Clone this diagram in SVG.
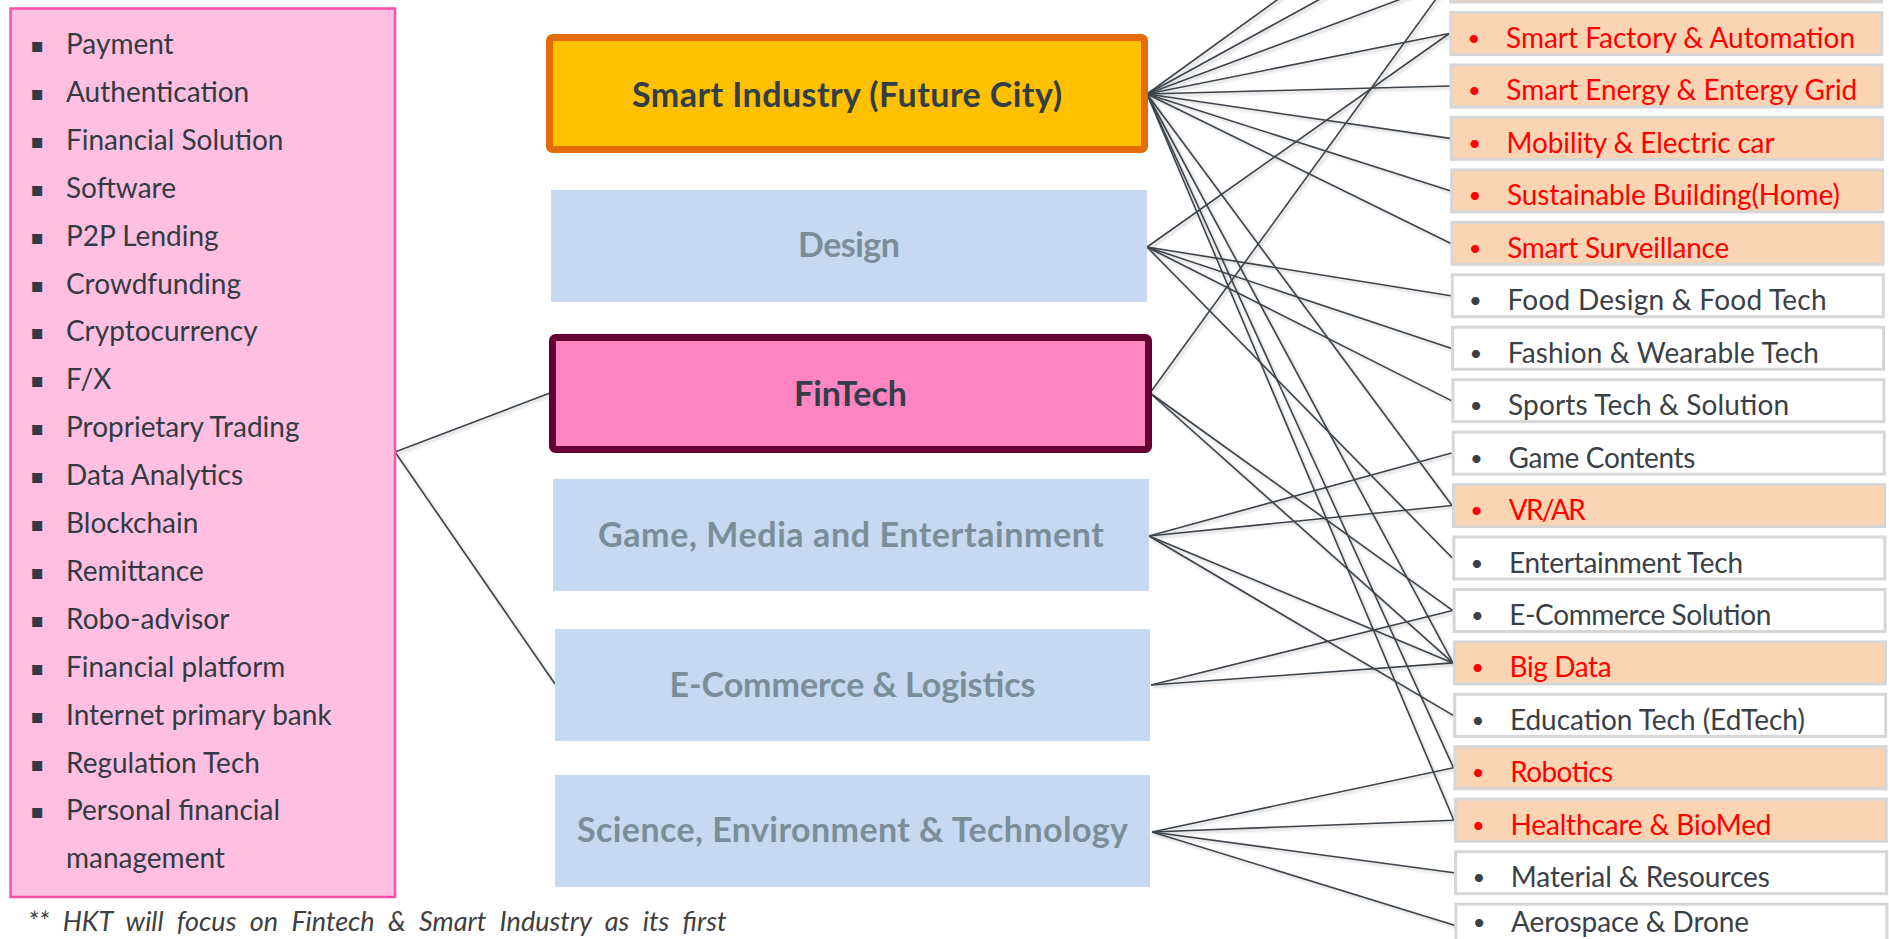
<svg xmlns="http://www.w3.org/2000/svg" width="1889" height="939" viewBox="0 0 1889 939">
<defs>
<filter id="sh" x="-5%" y="-5%" width="110%" height="110%">
<feDropShadow dx="2" dy="2" stdDeviation="1.8" flood-color="#000" flood-opacity="0.22"/>
</filter>
</defs>
<style>
.bg{fill:#ffffff}
.conn line{stroke:#3C444C;stroke-width:1.6;fill:none}
.list{font-family:Lato,"Noto Sans",sans-serif;font-size:28px;fill:#333B42}
.sq{font-family:"DejaVu Sans",sans-serif;font-size:20px;fill:#333B42}
.main{font-family:Lato,"Open Sans",sans-serif;font-size:34px;font-weight:bold;text-anchor:middle}
.dark{fill:#323E48}
.grey{fill:#7A8E9A}
.blue{fill:#C6D9F0}
.rb{stroke:#D6D6D6;stroke-width:3}
.pe{fill:#FBD4B4}
.wh{fill:#FFFFFF}
.it{font-family:Lato,"Noto Sans",sans-serif;font-size:28px}
.red{fill:#FF0000}
.blk{fill:#3A4046}
.bul{font-family:Lato,"Noto Sans",sans-serif;font-size:22px;text-anchor:middle}
.note{font-family:Lato,"Noto Sans",sans-serif;font-size:27px;font-style:italic;fill:#404040;word-spacing:7px}
</style>
<rect class="bg" x="0" y="0" width="1889" height="939"/>

<g id="connectors" class="conn" filter="url(#sh)">
<line x1="1147" y1="94" x2="1448.4" y2="-123.85"/>
<line x1="1147" y1="94" x2="1448.7" y2="-71.4"/>
<line x1="1147" y1="94" x2="1449" y2="-18.95"/>
<line x1="1147" y1="94" x2="1449.3" y2="33.5"/>
<line x1="1147" y1="94" x2="1449.6" y2="85.95"/>
<line x1="1147" y1="94" x2="1449.9" y2="138.4"/>
<line x1="1147" y1="94" x2="1450.2" y2="190.85"/>
<line x1="1147" y1="94" x2="1450.5" y2="243.3"/>
<line x1="1147" y1="94" x2="1452" y2="505.55"/>
<line x1="1147" y1="94" x2="1452.9" y2="662.9"/>
<line x1="1147" y1="94" x2="1453.5" y2="767.8"/>
<line x1="1147" y1="94" x2="1453.8" y2="820.25"/>
<line x1="1147" y1="247" x2="1449.3" y2="33.5"/>
<line x1="1147" y1="247" x2="1450.8" y2="295.75"/>
<line x1="1147" y1="247" x2="1451.1" y2="348.2"/>
<line x1="1147" y1="247" x2="1451.4" y2="400.65"/>
<line x1="1147" y1="247" x2="1452.3" y2="558"/>
<line x1="1150" y1="393" x2="1449" y2="-18.95"/>
<line x1="1150" y1="393" x2="1452.6" y2="610.45"/>
<line x1="1150" y1="393" x2="1452.9" y2="662.9"/>
<line x1="1149" y1="536" x2="1451.7" y2="453.1"/>
<line x1="1149" y1="536" x2="1452" y2="505.55"/>
<line x1="1149" y1="536" x2="1452.9" y2="662.9"/>
<line x1="1149" y1="536" x2="1453.2" y2="715.35"/>
<line x1="1151" y1="685" x2="1452.6" y2="610.45"/>
<line x1="1151" y1="685" x2="1452.9" y2="662.9"/>
<line x1="1152" y1="832" x2="1453.5" y2="767.8"/>
<line x1="1152" y1="832" x2="1453.8" y2="820.25"/>
<line x1="1152" y1="832" x2="1454.1" y2="872.7"/>
<line x1="1152" y1="832" x2="1454.4" y2="925.15"/>
<line x1="395" y1="452" x2="550" y2="393"/>
<line x1="395" y1="452" x2="555" y2="684"/>
</g>

<g id="fintech-list">
<rect x="10.5" y="8.5" width="384.5" height="888.5" fill="#FFBFE0" stroke="#FF4FA8" stroke-width="2.5"/>
<text class="sq" x="37" y="52" text-anchor="middle">▪</text><text class="list" x="66" y="54">Payment</text>
<text class="sq" x="37" y="100" text-anchor="middle">▪</text><text class="list" x="66" y="102">Authentication</text>
<text class="sq" x="37" y="148" text-anchor="middle">▪</text><text class="list" x="66" y="150">Financial Solution</text>
<text class="sq" x="37" y="196" text-anchor="middle">▪</text><text class="list" x="66" y="198">Software</text>
<text class="sq" x="37" y="244" text-anchor="middle">▪</text><text class="list" x="66" y="246">P2P Lending</text>
<text class="sq" x="37" y="292" text-anchor="middle">▪</text><text class="list" x="66" y="294">Crowdfunding</text>
<text class="sq" x="37" y="339" text-anchor="middle">▪</text><text class="list" x="66" y="341">Cryptocurrency</text>
<text class="sq" x="37" y="387" text-anchor="middle">▪</text><text class="list" x="66" y="389">F/X</text>
<text class="sq" x="37" y="435" text-anchor="middle">▪</text><text class="list" x="66" y="437">Proprietary Trading</text>
<text class="sq" x="37" y="483" text-anchor="middle">▪</text><text class="list" x="66" y="485">Data Analytics</text>
<text class="sq" x="37" y="531" text-anchor="middle">▪</text><text class="list" x="66" y="533">Blockchain</text>
<text class="sq" x="37" y="579" text-anchor="middle">▪</text><text class="list" x="66" y="581">Remittance</text>
<text class="sq" x="37" y="627" text-anchor="middle">▪</text><text class="list" x="66" y="629">Robo-advisor</text>
<text class="sq" x="37" y="675" text-anchor="middle">▪</text><text class="list" x="66" y="677">Financial platform</text>
<text class="sq" x="37" y="723" text-anchor="middle">▪</text><text class="list" x="66" y="725">Internet primary bank</text>
<text class="sq" x="37" y="771" text-anchor="middle">▪</text><text class="list" x="66" y="773">Regulation Tech</text>
<text class="sq" x="37" y="818" text-anchor="middle">▪</text><text class="list" x="66" y="820">Personal financial</text>
<text class="list" x="66" y="868">management</text>
</g>

<g id="smart-industry">
<rect x="549.5" y="37.5" width="595" height="112" rx="3" fill="#FFC000" stroke="#E36C09" stroke-width="7"/>
<text class="main dark" x="847" y="107" textLength="430">Smart Industry (Future City)</text>
</g>
<g id="design">
<rect class="blue" x="551" y="190" width="596" height="112"/>
<text class="main grey" x="849" y="257" textLength="102">Design</text>
</g>
<g id="fintech">
<rect x="552.5" y="337.5" width="596" height="112" rx="3" fill="#FF85C2" stroke="#660033" stroke-width="7"/>
<text class="main dark" x="850.5" y="406" textLength="113">FinTech</text>
</g>
<g id="game-media">
<rect class="blue" x="553" y="479" width="596" height="112"/>
<text class="main grey" x="851" y="547" textLength="506">Game, Media and Entertainment</text>
</g>
<g id="ecommerce">
<rect class="blue" x="555" y="629" width="595" height="112"/>
<text class="main grey" x="852.5" y="697" textLength="366">E-Commerce &amp; Logistics</text>
</g>
<g id="science">
<rect class="blue" x="555" y="775" width="595" height="112"/>
<text class="main grey" x="852.5" y="842" textLength="551">Science, Environment &amp; Technology</text>
</g>

<g id="item-top"><rect class="rb pe" x="1450.5" y="-39.95" width="431" height="42"/></g>
<g id="item-smart-factory"><rect class="rb pe" x="1450.8" y="12.5" width="431" height="42"/><text class="bul red" x="1474" y="46">•</text><text class="it red" x="1506" y="48" textLength="349">Smart Factory &amp; Automation</text></g>
<g id="item-smart-energy"><rect class="rb pe" x="1451.1" y="64.95" width="431" height="42"/><text class="bul red" x="1474.3" y="98.45">•</text><text class="it red" x="1506.3" y="100.45" textLength="351">Smart Energy &amp; Entergy Grid</text></g>
<g id="item-mobility"><rect class="rb pe" x="1451.4" y="117.4" width="431" height="42"/><text class="bul red" x="1474.6" y="150.9">•</text><text class="it red" x="1506.6" y="152.9" textLength="268">Mobility &amp; Electric car</text></g>
<g id="item-building"><rect class="rb pe" x="1451.7" y="169.85" width="431" height="42"/><text class="bul red" x="1474.9" y="203.35">•</text><text class="it red" x="1506.9" y="205.35" textLength="333">Sustainable Building(Home)</text></g>
<g id="item-surveillance"><rect class="rb pe" x="1452" y="222.3" width="431" height="42"/><text class="bul red" x="1475.2" y="255.8">•</text><text class="it red" x="1507.2" y="257.8" textLength="222">Smart Surveillance</text></g>
<g id="item-food"><rect class="rb wh" x="1452.3" y="274.75" width="431" height="42"/><text class="bul blk" x="1475.5" y="308.25">•</text><text class="it blk" x="1507.5" y="310.25" textLength="319">Food Design &amp; Food Tech</text></g>
<g id="item-fashion"><rect class="rb wh" x="1452.6" y="327.2" width="431" height="42"/><text class="bul blk" x="1475.8" y="360.7">•</text><text class="it blk" x="1507.8" y="362.7" textLength="311">Fashion &amp; Wearable Tech</text></g>
<g id="item-sports"><rect class="rb wh" x="1452.9" y="379.65" width="431" height="42"/><text class="bul blk" x="1476.1" y="413.15">•</text><text class="it blk" x="1508.1" y="415.15" textLength="281">Sports Tech &amp; Solution</text></g>
<g id="item-game"><rect class="rb wh" x="1453.2" y="432.1" width="431" height="42"/><text class="bul blk" x="1476.4" y="465.6">•</text><text class="it blk" x="1508.4" y="467.6" textLength="187">Game Contents</text></g>
<g id="item-vrar"><rect class="rb pe" x="1453.5" y="484.55" width="431" height="42"/><text class="bul red" x="1476.7" y="518.05">•</text><text class="it red" x="1508.7" y="520.05" textLength="77">VR/AR</text></g>
<g id="item-entertainment"><rect class="rb wh" x="1453.8" y="537" width="431" height="42"/><text class="bul blk" x="1477" y="570.5">•</text><text class="it blk" x="1509" y="572.5" textLength="234">Entertainment Tech</text></g>
<g id="item-ecommerce"><rect class="rb wh" x="1454.1" y="589.45" width="431" height="42"/><text class="bul blk" x="1477.3" y="622.95">•</text><text class="it blk" x="1509.3" y="624.95" textLength="262">E-Commerce Solution</text></g>
<g id="item-bigdata"><rect class="rb pe" x="1454.4" y="641.9" width="431" height="42"/><text class="bul red" x="1477.6" y="675.4">•</text><text class="it red" x="1509.6" y="677.4" textLength="102">Big Data</text></g>
<g id="item-edtech"><rect class="rb wh" x="1454.7" y="694.35" width="431" height="42"/><text class="bul blk" x="1477.9" y="727.85">•</text><text class="it blk" x="1509.9" y="729.85" textLength="295">Education Tech (EdTech)</text></g>
<g id="item-robotics"><rect class="rb pe" x="1455" y="746.8" width="431" height="42"/><text class="bul red" x="1478.2" y="780.3">•</text><text class="it red" x="1510.2" y="782.3" textLength="103">Robotics</text></g>
<g id="item-healthcare"><rect class="rb pe" x="1455.3" y="799.25" width="431" height="42"/><text class="bul red" x="1478.5" y="832.75">•</text><text class="it red" x="1510.5" y="834.75" textLength="261">Healthcare &amp; BioMed</text></g>
<g id="item-material"><rect class="rb wh" x="1455.6" y="851.7" width="431" height="42"/><text class="bul blk" x="1478.8" y="885.2">•</text><text class="it blk" x="1510.8" y="887.2" textLength="259">Material &amp; Resources</text></g>
<g id="item-aerospace"><rect class="rb wh" x="1455.9" y="904.15" width="431" height="42"/><text class="bul blk" x="1479.1" y="930">•</text><text class="it blk" x="1511.1" y="932" textLength="238">Aerospace &amp; Drone</text></g>

<text class="note" x="28" y="931">** HKT will focus on Fintech &amp; Smart Industry as its first</text>
</svg>
